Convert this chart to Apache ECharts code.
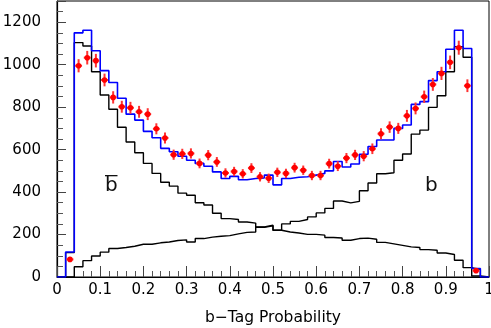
<!DOCTYPE html>
<html>
<head>
<meta charset="utf-8">
<script src="https://cdn.jsdelivr.net/npm/echarts@6/dist/echarts.min.js"></script>
<style>
  html, body { margin: 0; padding: 0; background: #fff; }
  #chart { width: 491px; height: 328px; }
</style>
</head>
<body>
<div id="chart"></div>
<script>
// histogram binning: 50 bins of width 0.02 on [0, 1]
const binWidth = 0.02
const nBins = 50

// b-bar template (black, falling)
const bbarCounts = [
  0, 115, 1104, 1088, 967, 857, 790, 705, 636, 585,
  535, 488, 446, 428, 395, 385, 350, 339, 300, 275,
  271, 259, 254, 234, 241, 220, 212, 207, 201, 201,
  197, 186, 184, 173, 181, 183, 178, 163, 156, 149,
  142, 139, 129, 126, 113, 106, 79, 44, 35, 0
]

// b template (black, rising)
const bCounts = [
  0, 0, 48, 77, 99, 117, 134, 139, 145, 154,
  154, 161, 165, 172, 175, 165, 181, 188, 192, 195,
  203, 210, 212, 236, 244, 220, 250, 262, 271, 283,
  302, 323, 358, 349, 356, 406, 443, 486, 491, 550,
  579, 673, 692, 799, 854, 967, 1085, 1035, 5, 0
]

// sum of templates (blue)
const sumCounts = [
  0, 118, 1150, 1162, 1066, 972, 916, 842, 767, 739,
  686, 656, 606, 590, 569, 550, 535, 522, 495, 464,
  474, 458, 464, 467, 480, 434, 464, 470, 472, 480,
  488, 500, 544, 518, 532, 578, 615, 645, 645, 700,
  716, 813, 826, 925, 967, 1073, 1162, 1076, 40, 0
]

// data points (red) and their errors, null = empty bin
const dataCounts = [
  null, 83, 995, 1033, 1019, 928, 846, 802, 797, 778,
  767, 698, 655, 576, 580, 582, 535, 574, 542, 490,
  497, 486, 513, 472, 465, 493, 488, 515, 503, 478,
  478, 534, 522, 560, 575, 569, 604, 675, 706, 700,
  759, 794, 849, 907, 959, 1011, 1080, 901, 30, null
]
const dataErrors = [
  0, 9, 31, 32, 32, 30, 29, 28, 28, 28,
  28, 26, 26, 24, 24, 24, 23, 24, 23, 22,
  22, 22, 23, 22, 22, 22, 22, 23, 22, 22,
  22, 23, 23, 24, 24, 24, 25, 26, 27, 26,
  28, 28, 29, 30, 31, 32, 33, 30, 5, 0
]

const chart = echarts.init(document.getElementById('chart'))

// step outline: one point per lower bin edge, plus the right end
const histLine = (counts) => {
  const pts = counts.map((v, i) => [+(i * binWidth).toFixed(2), v])
  pts.push([nBins * binWidth, counts[counts.length - 1]])
  return pts
}

const points = []
dataCounts.forEach((v, i) => {
  if (v === null) return
  points.push([+((i + 0.5) * binWidth).toFixed(3), v, dataErrors[i]])
})

const font = 'DejaVu Sans'

const option = {
  animation: false,
  backgroundColor: '#fff',
  grid: {
    left: 57, right: 2, top: 1, bottom: 51,
    outerBoundsMode: 'none',
    containLabel: false,
    show: true, borderColor: '#000', borderWidth: 1
  },
  xAxis: {
    type: 'value',
    min: 0, max: 1, interval: 0.1,
    name: 'b\u2212Tag Probability',
    nameLocation: 'middle',
    nameGap: 33,
    nameTextStyle: { fontFamily: font, fontSize: 15.5, color: '#000' },
    axisLine: { lineStyle: { color: '#000', width: 1.2 } },
    axisTick: { inside: true, length: 11, lineStyle: { color: '#444' } },
    minorTick: { show: true, splitNumber: 5, length: 6, lineStyle: { color: '#555' } },
    splitLine: { show: false },
    axisLabel: { fontFamily: font, fontSize: 15, color: '#000', margin: 6 }
  },
  yAxis: {
    type: 'value',
    min: 0, max: 1300, interval: 200,
    axisLine: { show: true, lineStyle: { color: '#000', width: 1.2 } },
    axisTick: { show: true, inside: true, length: 9, lineStyle: { color: '#444' } },
    minorTick: { show: true, splitNumber: 4, length: 6, lineStyle: { color: '#555' } },
    splitLine: { show: false },
    axisLabel: {
      fontFamily: font, fontSize: 15, color: '#000', margin: 16, showMaxLabel: false,
      formatter: (v) => String(v)
    }
  },
  graphic: [
    {
      type: 'text', left: 105, top: 176,
      style: { text: 'b', fontFamily: font, fontSize: 20, fill: '#111' }
    },
    {
      type: 'rect', left: 105, top: 175,
      shape: { width: 12.5, height: 1.3 },
      style: { fill: '#111' }
    },
    {
      type: 'text', left: 425, top: 176,
      style: { text: 'b', fontFamily: font, fontSize: 20, fill: '#111' }
    }
  ],
  series: [
    {
      name: 'bbar', type: 'line', step: 'end', symbol: 'none',
      data: histLine(bbarCounts),
      lineStyle: { color: '#000', width: 1.4 }
    },
    {
      name: 'b', type: 'line', step: 'end', symbol: 'none',
      data: histLine(bCounts),
      lineStyle: { color: '#000', width: 1.4 }
    },
    {
      name: 'sum', type: 'line', step: 'end', symbol: 'none',
      data: histLine(sumCounts),
      lineStyle: { color: '#0000ff', width: 1.6 }
    },
    {
      name: 'data', type: 'custom',
      data: points,
      z: 5,
      renderItem: (params, api) => {
        const x = api.value(0)
        const y = api.value(1)
        const e = api.value(2)
        const c = api.coord([x, y])
        const top = api.coord([x, y + e])
        const bot = api.coord([x, y - e])
        const lft = api.coord([x - 0.008, y])
        const rgt = api.coord([x + 0.008, y])
        const barStyle = { stroke: '#ff3333', lineWidth: 2 }
        return {
          type: 'group',
          children: [
            { type: 'line', shape: { x1: c[0], y1: top[1], x2: c[0], y2: bot[1] }, style: barStyle },
            { type: 'line', shape: { x1: lft[0], y1: c[1], x2: rgt[0], y2: c[1] }, style: barStyle },
            { type: 'circle', shape: { cx: c[0], cy: c[1], r: 2.8 }, style: { fill: '#ff0000' } }
          ]
        }
      }
    }
  ]
}

chart.setOption(option)
</script>
</body>
</html>
